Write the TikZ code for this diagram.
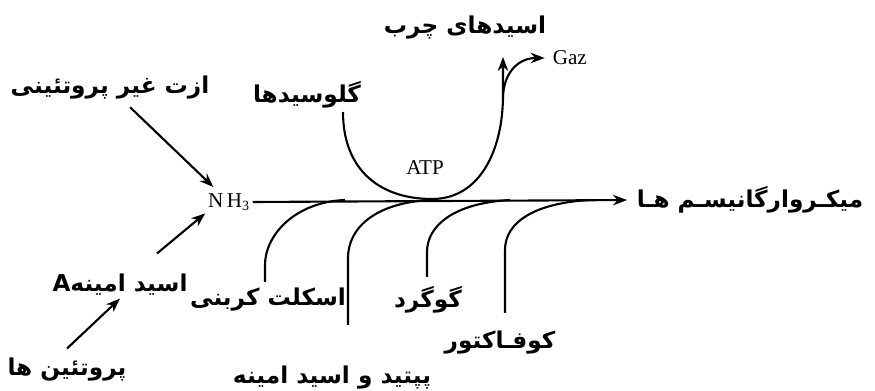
\documentclass[tikz,border=0pt]{standalone}
\usepackage{fontspec}
\setmainfont{Liberation Serif}
\newfontfamily\arabicfont[Script=Arabic]{DejaVu Sans}
\TeXXeTstate=1
\usetikzlibrary{arrows.meta}

\begin{document}
\begin{tikzpicture}[x=0.02cm, y=-0.02cm,
  every node/.style={inner sep=1pt},
  fa/.style={font=\arabicfont\bfseries\fontsize{13.2}{15}\selectfont},
  lat/.style={font=\large},
  every path/.style={>={Stealth[length=8pt,width=6pt]}, line width=1.2pt}
]
\useasboundingbox (0,0) rectangle (875,391);

% labels
\node[fa] (fat) at (465,28) {\beginR اسیدهای چرب\endR};
\node[lat, anchor=west] (gaz) at (550,58) {Gaz};
\node[fa] (gluc) at (307,95) {\beginR گلوسیدها\endR};
\node[fa] (npn) at (110,88) {\beginR ازت غیر پروتئینی\endR};
\node[lat] (nh3) at (229,202) {N\,H\textsubscript{3}};
\node[lat] (atp) at (425,168) {ATP};
\node[fa] (micro) at (750,200) {\beginR میکـروارگانیسـم هـا\endR};
\node[fa] (aa) at (120,285) {A\beginR اسید امینه\endR};
\node[fa] (prot) at (67,370) {\beginR پروتئین ها\endR};
\node[fa] (skel) at (268,300) {\beginR اسکلت کربنی\endR};
\node[fa] (pep) at (332,378) {\beginR پپتید و اسید امینه\endR};
\node[fa] (sulf) at (428,300) {\beginR گوگرد\endR};
\node[fa] (cof) at (500,343) {\beginR کوفـاکتور\endR};

% curve ends
\coordinate (gl) at (343,112);
\coordinate (ub) at (432,199);
\coordinate (split) at (503,95);
\coordinate (fatend) at (503,57);
\coordinate (t1) at (345,200);
\coordinate (e1) at (265,282);
\coordinate (t2) at (430,200);
\coordinate (e2) at (348,325);
\coordinate (t3) at (510,200);
\coordinate (e3) at (427,277);
\coordinate (t4) at (590,200);
\coordinate (e4) at (505,313);

% arrows
\draw[->, shorten <=4pt, shorten >=3pt] (npn) -- (nh3);
\draw[->] ([shift={(37,-18)}]aa.north) -- (nh3.south west);
\draw[->] ([yshift=4pt]prot.north) -- (aa.south);
\draw[->, shorten >=4pt] (nh3.east) -- (micro.west);

\draw[->] (gl) .. controls (343,170) and (380,199) .. (ub)
  .. controls (480,199) and (503,150) .. (split) -- (fatend);
\draw[->, shorten >=3pt] (split) .. controls (505,70) and (520,58) .. (gaz.west);

\draw (t1) .. controls (295,202) and (265,235) .. (265,265) -- (e1);
\draw (t2) .. controls (375,203) and (348,228) .. (348,258) -- (e2);
\draw (t3) .. controls (455,203) and (427,225) .. (427,252) -- (e3);
\draw (t4) .. controls (535,203) and (505,222) .. (505,250) -- (e4);
\end{tikzpicture}
\end{document}
